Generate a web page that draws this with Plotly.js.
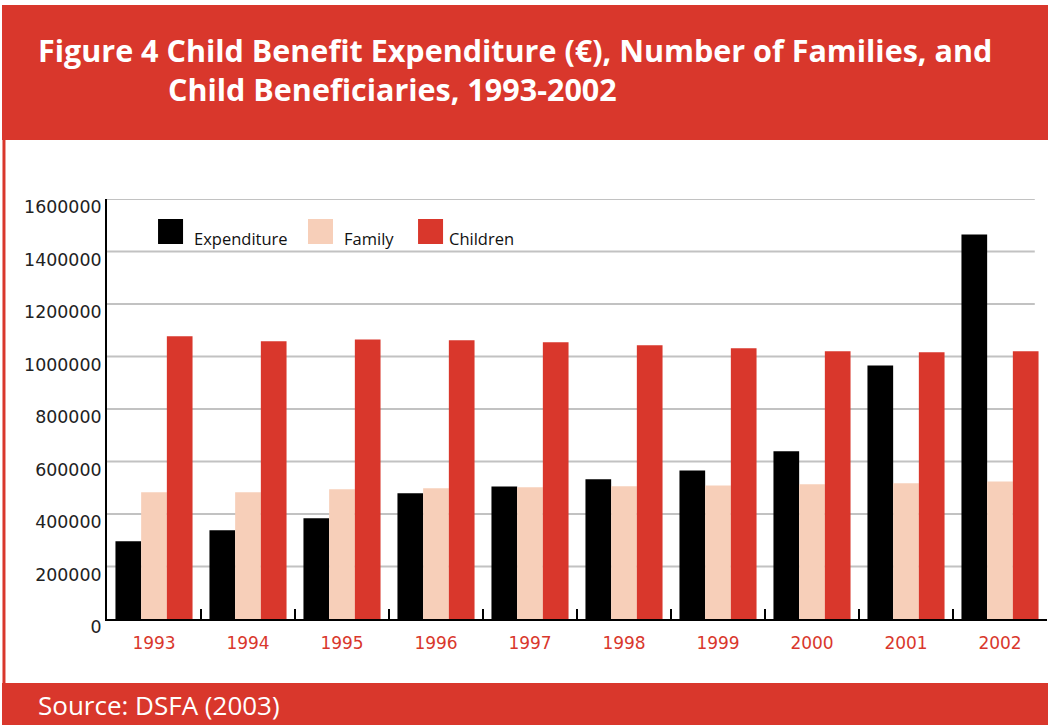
<!DOCTYPE html>
<html>
<head>
<meta charset="utf-8">
<script src="https://cdn.plot.ly/plotly-3.0.1.min.js"></script>
<style>
  html, body { margin: 0; padding: 0; background: #ffffff; }
  #chart { width: 1048px; height: 725px; }
</style>
</head>
<body>
<div id="chart"></div>
<script>
// ---- Data ----
const years = ["1993", "1994", "1995", "1996", "1997", "1998", "1999", "2000", "2001", "2002"];
const expenditure = [296000, 338000, 384000, 479000, 505000, 532000, 566000, 639000, 966000, 1465000];
const family = [483000, 483000, 494000, 498000, 502000, 506000, 509000, 513000, 517000, 524000];
const children = [1077000, 1058000, 1065000, 1062000, 1054000, 1043000, 1031000, 1020000, 1016000, 1020000];
const seriesNames = ["Expenditure", "Family", "Children"];
const yTicks = [0, 200000, 400000, 600000, 800000, 1000000, 1200000, 1400000, 1600000];

const RED = "#d9372c";
const PEACH = "#f7cfb9";
const colors = ["#000000", PEACH, RED];
const seriesValues = [expenditure, family, children];

const traces = seriesNames.map((name, i) => ({
  type: "bar", name: name, x: years, y: seriesValues[i],
  marker: { color: colors[i] }, showlegend: false
}));

// Custom legend (large swatches as in the reference), positions in paper units
const legendSwatchX = [0.0543, 0.2138, 0.3309];
const legendTextX = [0.0904, 0.2500, 0.3617];
const legendShapes = seriesNames.map((n, i) => ({
  type: "rect", xref: "paper", yref: "paper",
  x0: legendSwatchX[i], x1: legendSwatchX[i] + 0.0266, y0: 0.8929, y1: 0.9524,
  fillcolor: colors[i], line: { width: 0 }
}));
const legendTexts = seriesNames.map((n, i) => ({
  text: n, xref: "paper", yref: "paper", x: legendTextX[i], y: 0.905,
  xanchor: "left", yanchor: "middle", showarrow: false,
  font: { family: "Open Sans, sans-serif", size: 16.5, color: "#111111" }
}));

// Gridlines stop a little short of the right end, as in the reference
const gridShapes = yTicks.filter(v => v > 0).map(v => ({
  type: "line", xref: "paper", yref: "y", x0: 0, x1: 0.987, y0: v, y1: v,
  line: { color: "#c2c2c2", width: 2 }, layer: "below"
}));

const layout = {
  width: 1048,
  height: 725,
  margin: { l: 107, r: 1, t: 199, b: 106, pad: 0 },
  paper_bgcolor: "#ffffff",
  plot_bgcolor: "#ffffff",
  barmode: "group",
  bargap: 0.18,
  bargroupgap: 0,
  showlegend: false,
  xaxis: {
    type: "category",
    showline: true, linecolor: "#000000", linewidth: 2,
    ticks: "inside", tickson: "boundaries", ticklen: 10, tickwidth: 2, tickcolor: "#000000",
    tickfont: { family: "DejaVu Sans, sans-serif", size: 17, color: RED },
    ticklabelstandoff: 8,
    showgrid: false, zeroline: false, fixedrange: true
  },
  yaxis: {
    range: [0, 1600000],
    tickvals: yTicks,
    ticktext: yTicks.map(String),
    showline: true, linecolor: "#000000", linewidth: 2,
    ticks: "",
    showgrid: false,
    zeroline: false,
    tickfont: { family: "DejaVu Sans, sans-serif", size: 17.4, color: "#222222" },
    ticklabelshift: 8,
    ticklabelstandoff: 0,
    fixedrange: true
  },
  shapes: [
    // header band
    { type: "rect", xref: "paper", yref: "paper", x0: -0.1117, x1: 1.002, y0: 1.1405, y1: 1.4619,
      fillcolor: RED, line: { width: 0 }, layer: "below" },
    // footer band
    { type: "rect", xref: "paper", yref: "paper", x0: -0.1117, x1: 1.002, y0: -0.2524, y1: -0.1524,
      fillcolor: RED, line: { width: 0 }, layer: "below" },
    // left border line
    { type: "line", xref: "paper", yref: "paper", x0: -0.1096, x1: -0.1096, y0: -0.1524, y1: 1.1405,
      line: { color: RED, width: 3 } }
  ].concat(gridShapes, legendShapes),
  annotations: [
    { text: "<b>Figure 4 Child Benefit Expenditure (€), Number of Families, and</b>",
      xref: "paper", yref: "paper", x: -0.0755, y: 1.3548, xanchor: "left", yanchor: "middle",
      showarrow: false, font: { family: "Open Sans, sans-serif", size: 30.5, color: "#ffffff" } },
    { text: "<b>Child Beneficiaries, 1993-2002</b>",
      xref: "paper", yref: "paper", x: 0.0628, y: 1.2619, xanchor: "left", yanchor: "middle",
      showarrow: false, font: { family: "Open Sans, sans-serif", size: 30.5, color: "#ffffff" } },
    { text: "Source: DSFA (2003)",
      xref: "paper", yref: "paper", x: -0.0755, y: -0.2048, xanchor: "left", yanchor: "middle",
      showarrow: false, font: { family: "Open Sans, sans-serif", size: 26, color: "#ffffff" } }
  ].concat(legendTexts)
};

Plotly.newPlot("chart", traces, layout, { staticPlot: true, displayModeBar: false });
</script>
</body>
</html>
